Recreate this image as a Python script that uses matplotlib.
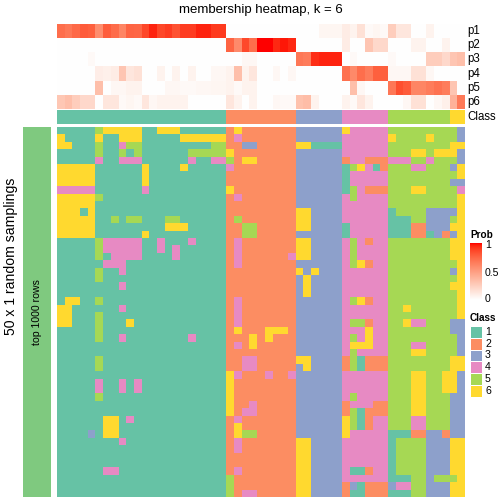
import matplotlib
matplotlib.use("Agg")
import matplotlib.pyplot as plt
import numpy as np
from matplotlib.colors import ListedColormap, to_rgb
from matplotlib.patches import Rectangle

plt.rcParams['font.family'] = ['Liberation Sans', 'DejaVu Sans']

title = "membership heatmap, k = 6"
row_title = "50 x 1 random samplings"
split_label = "top 1000 rows"
prob_names = ["p1", "p2", "p3", "p4", "p5", "p6"]
class_labels = ["1", "2", "3", "4", "5", "6"]
class_colors = ["#66C2A5", "#FC8D62", "#8DA0CB", "#E78AC3", "#A6D854", "#FFD92F"]
split_color = "#7FC97F"

# consensus class of each of the 53 samples (columns)
sample_class = "1111111111111111111111 222222222 333333 444444 55555555 66"

# membership probabilities per sample
p1 = [0.72, 0.68, 0.74, 0.80, 0.78, 0.58, 0.79, 0.73, 0.62, 0.76, 0.75, 0.87, 0.96, 0.87, 0.90, 0.83, 0.90, 0.90, 0.96, 0.96, 0.91, 0.91,
      0, 0, 0, 0, 0, 0, 0, 0, 0,
      0, 0, 0, 0.05, 0.05, 0.05,
      0.10, 0.065, 0.16, 0.03, 0.05, 0.03,
      0.26, 0.13, 0.13, 0, 0, 0.065, 0, 0,
      0, 0]
p2 = [0, 0, 0, 0, 0, 0, 0, 0, 0, 0, 0, 0, 0, 0, 0, 0, 0, 0, 0, 0, 0, 0,
      0.76, 0.59, 0.86, 0.72, 1.00, 1.00, 0.95, 0.98, 0.95,
      0, 0, 0, 0, 0, 0,
      0.10, 0, 0, 0.30, 0.20, 0.20,
      0, 0, 0, 0.065, 0.065, 0, 0, 0.065,
      0, 0]
p3 = [0, 0, 0, 0, 0.03, 0, 0, 0, 0, 0, 0, 0, 0, 0, 0, 0, 0, 0, 0, 0, 0, 0,
      0, 0, 0.04, 0.04, 0, 0, 0, 0, 0,
      0.68, 0.66, 0.94, 0.96, 0.96, 0.96,
      0, 0.03, 0, 0, 0, 0,
      0.03, 0, 0, 0, 0, 0.26, 0.26, 0.20,
      0.30, 0.33]
p4 = [0, 0, 0, 0, 0, 0.09, 0.08, 0.10, 0.30, 0.13, 0.16, 0, 0, 0.065, 0, 0.065, 0, 0.065, 0, 0, 0.04, 0.04,
      0.065, 0.33, 0.065, 0.13, 0, 0, 0.04, 0, 0.04,
      0, 0, 0, 0, 0, 0,
      0.71, 0.60, 0.72, 0.66, 0.78, 0.78,
      0.04, 0.04, 0.04, 0.16, 0.16, 0.04, 0, 0,
      0, 0]
p5 = [0, 0, 0, 0, 0, 0.33, 0, 0.04, 0.04, 0.065, 0.065, 0, 0, 0, 0.04, 0.04, 0.03, 0.03, 0.04, 0.04, 0.05, 0.05,
      0.065, 0.03, 0.065, 0.065, 0, 0, 0, 0, 0,
      0, 0, 0, 0, 0, 0,
      0, 0.33, 0.04, 0, 0, 0,
      0.68, 0.84, 0.80, 0.62, 0.62, 0.66, 0.70, 0.66,
      0.30, 0]
p6 = [0.29, 0.33, 0.26, 0.20, 0.20, 0, 0.13, 0.13, 0.03, 0.05, 0.03, 0.13, 0.04, 0.065, 0.065, 0.065, 0.065, 0, 0, 0, 0, 0,
      0.13, 0.065, 0, 0.065, 0, 0, 0.04, 0.03, 0.03,
      0.32, 0.34, 0.065, 0, 0, 0,
      0.065, 0.03, 0.13, 0.065, 0, 0,
      0, 0, 0.04, 0.16, 0.16, 0, 0.04, 0.08,
      0.40, 0.67]

# class assigned in each of the 50 random samplings (rows) for each sample
membership = [
    "1111156666611666111111 262222222 333333 644444 55555555 53",
    "6111161166611111666666 242222222 333333 444444 65555655 53",
    "6611151145511111111155 223322222 661111 444444 55555555 66",
    "1111151151511111155555 622222222 333333 444444 55566566 63",
    "1111141144411111141144 526622222 333333 244222 44455455 53",
    "6666611111161111611111 422222222 333333 156412 55544555 36",
    "6666611111161111111111 222222222 333333 144444 55555555 56",
    "6666611111161111111111 222222222 333333 144444 55555555 33",
    "4444411111141111111111 622222222 333333 154222 55566555 54",
    "6666651111111111111111 242222222 333333 454444 55555555 56",
    "6666611111111111111111 222222222 333333 444444 55555555 56",
    "6661611111111111111111 222222222 663333 444444 15555333 36",
    "6666611515511155111111 252222222 663333 444444 11155333 56",
    "6666611111111166611111 225522222 663333 144444 11122333 66",
    "6666611111161111111111 225522222 333333 144444 11122132 36",
    "1111154444411411141111 242222222 663333 454244 55555555 66",
    "1111154444411414111111 242222222 663333 454444 55555555 66",
    "1111151444411114111111 242222224 663333 454444 55555555 66",
    "1111114441111111111111 242222222 333333 456244 55555555 56",
    "1111151141111111111111 222222222 636333 444444 55555555 36",
    "1111151111111111111111 222222222 363333 444444 55555555 56",
    "1111111141111111111111 222222222 363333 444444 55555555 66",
    "1111111111111111111111 222222222 363333 444444 55555555 56",
    "1661151111111111111111 242222222 333333 456244 55555555 56",
    "6611111141111111111111 242222222 333333 444444 55655555 56",
    "6611151111111111111111 242222222 333333 444444 55555555 56",
    "6611151116111111111111 242222222 333333 455244 55644555 33",
    "1111151111111111111111 262226662 333333 444644 55555555 33",
    "1111151141111111141111 222626222 333333 454644 55555555 53",
    "1111111111111111111111 242622222 333333 466644 55544555 53",
    "1111111111111111111111 222222222 333333 454444 55566555 53",
    "1111151111111111111111 224422222 663333 251222 55555555 66",
    "1111151111111111111111 224422222 363333 251222 55555555 66",
    "1111111111111111111111 642224224 333333 444444 55566556 63",
    "1111141141411111111111 622222222 333333 444444 55566556 63",
    "1111141141411111111111 622222222 333333 444444 55566556 63",
    "1111151111111111111111 622222222 333333 454444 55566555 33",
    "1111111111111111111111 622422222 333333 244422 55566555 33",
    "1111111111111111111111 624422222 333333 251222 55566555 33",
    "1111116614111111111111 242222222 333333 651244 55544555 33",
    "1111116611111111111111 262222222 333333 651244 55544555 33",
    "1111316611111111111111 265522222 333333 644444 11122332 33",
    "1111111141111111111111 242222222 663333 444444 15555333 66",
    "1111111111111111111111 242222222 663333 444444 15555333 66",
    "1111111111111111111111 222222222 663333 444444 15555333 66",
    "1111111111111111111111 222222222 663333 444444 15555333 66",
    "1111114411111111111111 242222222 663333 411244 15555333 66",
    "1111111111111111111111 522222222 663333 444444 11155355 56",
    "1111111111111111111111 522222222 663333 231222 34455333 66",
    "1111111111111111111111 524422222 663333 211222 11155333 66",
]


def parse(s):
    return [int(ch) for ch in s.replace(" ", "")]


M = np.array([parse(r) for r in membership])
cls = np.array([parse(sample_class)])
P = np.array([p1, p2, p3, p4, p5, p6])


# white -> red colour ramp interpolated in CIE LAB space
def _to_lab(rgb):
    c = np.asarray(rgb, float)
    lin = np.where(c <= 0.04045, c / 12.92, ((c + 0.055) / 1.055) ** 2.4)
    m = np.array([[0.4124, 0.3576, 0.1805], [0.2126, 0.7152, 0.0722], [0.0193, 0.1192, 0.9505]])
    xyz = m @ lin / np.array([0.95047, 1.0, 1.08883])
    d = 6 / 29
    f = np.where(xyz > d ** 3, np.cbrt(xyz), xyz / (3 * d * d) + 4 / 29)
    return np.array([116 * f[1] - 16, 500 * (f[0] - f[1]), 200 * (f[1] - f[2])])


def _from_lab(lab):
    L, a, b = lab
    fy = (L + 16) / 116
    fx = fy + a / 500
    fz = fy - b / 200
    d = 6 / 29
    finv = lambda t: np.where(t > d, t ** 3, 3 * d * d * (t - 4 / 29))
    xyz = np.array([finv(fx), finv(fy), finv(fz)]) * np.array([0.95047, 1.0, 1.08883])
    m = np.array([[3.2406, -1.5372, -0.4986], [-0.9689, 1.8758, 0.0415], [0.0557, -0.2040, 1.0570]])
    lin = np.clip(m @ xyz, 0, 1)
    return np.clip(np.where(lin <= 0.0031308, 12.92 * lin, 1.055 * lin ** (1 / 2.4) - 0.055), 0, 1)


lab0, lab1 = _to_lab(to_rgb("white")), _to_lab(to_rgb("red"))
prob_cmap = ListedColormap([_from_lab(lab0 + (lab1 - lab0) * t) for t in np.linspace(0, 1, 256)])
class_cmap = ListedColormap(class_colors)

W = H = 504
fig = plt.figure(figsize=(7, 7), dpi=72)


def ax_px(x0, y0, x1, y1, **kw):
    return fig.add_axes([x0 / W, 1 - y1 / H, (x1 - x0) / W, (y1 - y0) / H], **kw)


# main heatmap
ax = ax_px(57, 127, 465, 497)
ax.imshow(M, cmap=class_cmap, vmin=0.5, vmax=6.5, aspect="auto", interpolation="nearest")
ax.set_axis_off()

# probability annotation
axp = ax_px(57, 24, 465, 109)
axp.imshow(P, cmap=prob_cmap, vmin=0, vmax=1, aspect="auto", interpolation="nearest")
axp.set_axis_off()

# class annotation
axc = ax_px(57, 110, 465, 124)
axc.imshow(cls, cmap=class_cmap, vmin=0.5, vmax=6.5, aspect="auto", interpolation="nearest")
axc.set_axis_off()

# overlay for texts and legends
ov = fig.add_axes([0, 0, 1, 1], facecolor="none")
ov.set_xlim(0, W)
ov.set_ylim(H, 0)
ov.set_axis_off()

ov.text(261, 10, title, ha="center", va="center", fontsize=13.2)

row_h = (109 - 24) / 6
for i, name in enumerate(prob_names):
    ov.text(467, 24 + row_h * (i + 0.5), name, ha="left", va="center", fontsize=11.5)
ov.text(467, 117, "Class", ha="left", va="center", fontsize=11.5)

# split bar on the left
ov.add_patch(Rectangle((23, 127), 28, 370, facecolor=split_color, edgecolor="none"))
ov.text(37.5, 312, split_label, rotation=90, ha="center", va="center", fontsize=10.5)
ov.text(11, 256, row_title, rotation=90, ha="center", va="center", fontsize=14)

# Prob legend
ov.text(470, 235, "Prob", ha="left", va="center", fontsize=10, fontweight="bold")
axl = ax_px(470, 243, 482, 300)
grad = np.linspace(1, 0, 100).reshape(-1, 1)
axl.imshow(grad, cmap=prob_cmap, vmin=0, vmax=1, aspect="auto", interpolation="bilinear")
axl.set_axis_off()
for lab, y in [("1", 245), ("0.5", 272.5), ("0", 299)]:
    ov.text(485, y, lab, ha="left", va="center", fontsize=10.5)
    ov.plot([470, 472.5], [y, y], color="white", lw=0.8)
    ov.plot([479.5, 482], [y, y], color="white", lw=0.8)

# Class legend
ov.text(470, 318, "Class", ha="left", va="center", fontsize=10, fontweight="bold")
bh = 11.8
for i, (lab, col) in enumerate(zip(class_labels, class_colors)):
    y0 = 326 + i * bh
    ov.add_patch(Rectangle((470, y0), 12, bh, facecolor=col, edgecolor="white", lw=1))
    ov.text(485, y0 + bh / 2, lab, ha="left", va="center", fontsize=10.5)

fig.savefig("out.png", dpi=72)
